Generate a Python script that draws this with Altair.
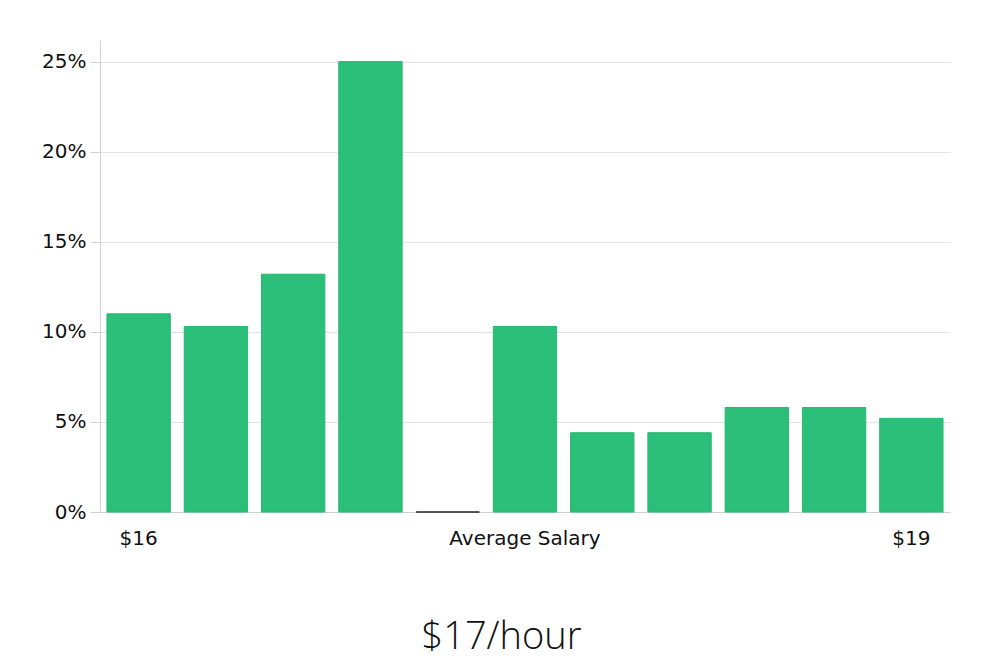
import altair as alt
import pandas as pd

bins = ["b1", "b2", "b3", "b4", "b5", "b6", "b7", "b8", "b9", "b10", "b11"]
shares = [11.0, 10.3, 13.2, 25.0, 0.0, 10.3, 4.4, 4.4, 5.8, 5.8, 5.2]
x_labels = {"b1": "$16", "b6": "Average Salary", "b11": "$19"}
y_ticks = [0, 5, 10, 15, 20, 25]
title_text = "$17/hour"

df = pd.DataFrame({"bin": bins, "share": shares})
df["is_avg"] = df["share"] == 0

label_expr = " : ".join(
    [f"datum.value == '{k}' ? '{v}'" for k, v in x_labels.items()] + ["''"]
)

chart = alt.Chart(df).mark_bar(strokeWidth=1).encode(
    x=alt.X(
        "bin:N",
        sort=None,
        scale=alt.Scale(paddingInner=0.18, paddingOuter=0.09),
        axis=alt.Axis(
            title=title_text,
            labelExpr=label_expr,
            labelAngle=0,
            labelFont="DejaVu Sans",
            labelFontSize=20,
            labelColor="#111",
            labelPadding=16,
            ticks=False,
            domainColor="#d0d0d0",
            titleFont="Open Sans",
            titleFontSize=38,
            titleFontWeight=300,
            titleColor="#111",
            titleX=401,
            titleY=125,
            titleAlign="center",
            titleBaseline="middle",
        ),
    ),
    y=alt.Y(
        "share:Q",
        scale=alt.Scale(domain=[0, 26.2], nice=False),
        axis=alt.Axis(
            title=None,
            values=y_ticks,
            labelExpr="datum.value + '%'",
            labelFont="DejaVu Sans",
            labelFontSize=20,
            labelColor="#111",
            labelPadding=4,
            tickSize=10,
            tickColor="#d0d0d0",
            domainColor="#d0d0d0",
            gridColor="#e3e3e3",
        ),
    ),
    fill=alt.condition("datum.is_avg", alt.value("#ffffff"), alt.value("#2cbf79")),
    stroke=alt.condition("datum.is_avg", alt.value("#222222"), alt.value("#27b873")),
).properties(
    width=850,
    height=472,
    autosize=alt.AutoSizeParams(type="none"),
    padding={"left": 92, "top": 32, "right": 42, "bottom": 146},
).configure_view(stroke=None)

chart.save("out.html", embed_options={"renderer": "svg", "actions": False})
